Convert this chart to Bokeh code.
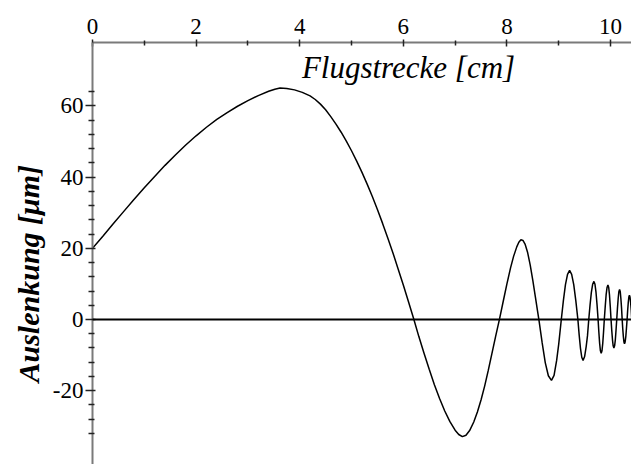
from bokeh.plotting import figure
from bokeh.models import Range1d, FixedTicker, Span, Label, Title, ColumnDataSource
from bokeh.embed import file_html
from bokeh.resources import INLINE

# Deflection of the beam along the flight path (cm -> micrometre)
flight_cm = [
    0.0, 0.2, 0.4, 0.6, 0.8, 1.0, 1.2, 1.4, 1.6, 1.8, 2.0, 2.2, 2.4, 2.6, 2.8, 3.0,
    3.2, 3.4, 3.52, 3.62, 3.75, 3.9, 4.05, 4.2, 4.3, 4.4, 4.5, 4.6, 4.7, 4.8, 4.9,
    5.0, 5.1, 5.2, 5.3, 5.4, 5.5, 5.6, 5.7, 5.8, 5.9, 6.0, 6.1, 6.2,
    6.3, 6.4, 6.5, 6.6, 6.7, 6.8, 6.9, 7.0, 7.07, 7.14, 7.21, 7.28, 7.36, 7.43,
    7.5, 7.57, 7.64, 7.71, 7.78, 7.86,
    7.93, 8.0, 8.07, 8.13, 8.19, 8.23, 8.27, 8.31, 8.35, 8.40, 8.45, 8.50, 8.55,
    8.59, 8.62,
    8.68, 8.74, 8.80, 8.86, 8.91, 8.96, 9.00, 9.05,
    9.09, 9.13, 9.17, 9.21, 9.25, 9.29, 9.33, 9.37,
    9.395, 9.42, 9.445, 9.47, 9.50, 9.53, 9.555, 9.58,
    9.605, 9.63, 9.655, 9.68, 9.70, 9.72, 9.74, 9.76,
    9.775, 9.79, 9.805, 9.82, 9.835, 9.85, 9.865, 9.88,
    9.898, 9.915, 9.933, 9.95, 9.965, 9.98, 9.995, 10.01,
    10.024, 10.038, 10.051, 10.065, 10.079, 10.093, 10.106, 10.12,
    10.134, 10.148, 10.161, 10.175, 10.188, 10.2, 10.213, 10.225,
    10.236, 10.248, 10.259, 10.27, 10.282, 10.295, 10.307, 10.32,
    10.331, 10.343, 10.354, 10.365, 10.376, 10.388, 10.4, 10.41,
]
deflection_um = [
    20.0, 23.4, 26.9, 30.3, 33.7, 37.0, 40.2, 43.3, 46.2, 49.0, 51.6, 54.0, 56.2, 58.1, 59.9, 61.5,
    62.9, 64.1, 64.7, 65.0, 64.9, 64.5, 63.8, 62.8, 61.8, 60.5, 58.9, 57.0, 54.9, 52.6, 50.1,
    47.4, 44.5, 41.4, 38.1, 34.6, 30.9, 27.0, 22.9, 18.7, 14.2, 9.7, 5.0, 0.2,
    -4.8, -9.5, -14.0, -18.3, -22.2, -25.7, -28.7, -31.1, -32.3, -32.9, -32.5, -31.2, -28.8, -26.0,
    -22.6, -18.7, -14.3, -9.6, -4.9, 0.3,
    5.2, 10.0, 14.5, 17.8, 20.4, 21.7, 22.4, 22.2, 21.2, 18.8, 15.3, 11.0, 6.3,
    2.5, -0.3,
    -6.5, -12.1, -15.8, -17.1, -15.7, -11.5, -6.9, 0.0,
    5.3, 9.8, 12.7, 13.8, 12.7, 9.8, 5.3, 0.0,
    -4.4, -8.1, -10.6, -11.5, -10.4, -7.6, -4.6, 0.0,
    4.1, 7.6, 9.9, 10.7, 9.9, 7.6, 4.1, 0.0,
    -3.6, -6.7, -8.8, -9.5, -8.8, -6.7, -3.6, 0.0,
    3.7, 6.9, 9.0, 9.7, 9.0, 6.9, 3.7, 0.0,
    -3.1, -5.7, -7.4, -8.0, -7.4, -5.7, -3.1, 0.0,
    3.2, 5.9, 7.8, 8.4, 7.8, 5.9, 3.2, 0.0,
    -2.6, -4.8, -6.3, -6.8, -6.3, -4.8, -2.6, 0.0,
    2.6, 4.8, 6.3, 6.8, 6.3, 4.8, 2.6, 0.0,
]

x_major = [0, 2, 4, 6, 8, 10]
x_minor = [1, 3, 5, 7, 9]
y_major = [-20, 0, 20, 40, 60]
y_major_labels = {-20: "-20", 0: "0", 20: "20", 40: "40", 60: "60"}
y_minor = [-32, -28, -24, -16, -12, -8, -4, 4, 8, 12, 16, 24, 28, 32, 36,
           44, 48, 52, 56, 64]

x_title = "Flugstrecke [cm]"
y_title = "Auslenkung [\u03bcm]"

SERIF = "Liberation Serif"

p = figure(
    width=631, height=464,
    x_range=Range1d(0, 10.405), y_range=Range1d(-40.73, 77.81),
    x_axis_location="above",
    output_backend="svg", toolbar_location=None,
    min_border_left=92, min_border_right=0,
    min_border_top=42, min_border_bottom=0,
)
p.outline_line_color = None
p.background_fill_color = "white"
p.border_fill_color = "white"
p.grid.visible = False

for ax, majors, minors in ((p.xaxis[0], x_major, x_minor), (p.yaxis[0], y_major, y_minor)):
    ax.ticker = FixedTicker(ticks=majors, minor_ticks=minors)
    ax.axis_line_color = "#7a7a7a"
    ax.axis_line_width = 2
    ax.major_tick_line_color = "#222222"
    ax.minor_tick_line_color = "#222222"
    ax.major_tick_line_width = 1.5
    ax.minor_tick_line_width = 1.5
    ax.major_label_text_font = SERIF
    ax.major_label_text_font_size = "23px"
    ax.major_label_text_color = "black"

p.yaxis.major_label_overrides = y_major_labels

p.xaxis.major_tick_out = 3
p.xaxis.major_tick_in = 4
p.xaxis.minor_tick_out = 2
p.xaxis.minor_tick_in = 3
p.xaxis.major_label_standoff = 6

p.yaxis.major_tick_out = 7
p.yaxis.major_tick_in = 3
p.yaxis.minor_tick_out = 4
p.yaxis.minor_tick_in = 2
p.yaxis.major_label_standoff = 2

# zero line
p.add_layout(Span(location=0, dimension="width", line_color="black", line_width=2))

src = ColumnDataSource(data=dict(x=flight_cm, y=deflection_um))
p.line("x", "y", source=src, line_color="black", line_width=1.5)

p.add_layout(Label(
    x=6.10, y=70.9, text=x_title, text_align="center", text_baseline="alphabetic",
    text_font=SERIF, text_font_style="italic", text_font_size="31px", text_color="black",
))

p.add_layout(Title(
    text=y_title, align="left", offset=82,
    text_font=SERIF, text_font_style="bold italic", text_font_size="30px",
    text_color="black",
), "left")

open("out.html", "w").write(file_html(p, INLINE))
